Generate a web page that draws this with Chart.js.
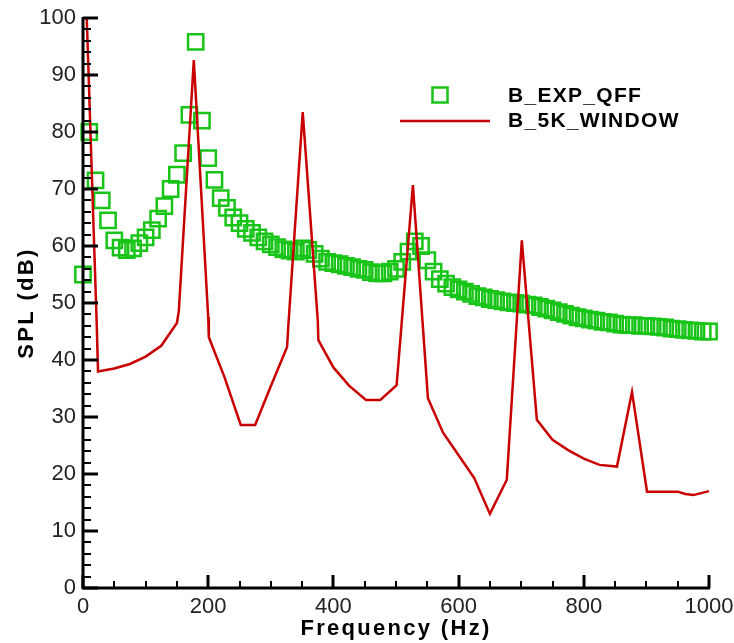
<!DOCTYPE html>
<html>
<head>
<meta charset="utf-8">
<script src="https://cdn.jsdelivr.net/npm/chart.js@4.4.1/dist/chart.umd.min.js"></script>
<style>
  html, body { margin: 0; padding: 0; background: #fff; }
  #wrap { width: 734px; height: 643px; }
</style>
</head>
<body>
<div id="wrap"><canvas id="chart" width="734" height="643"></canvas></div>
<script>
// measured spectrum (squares)
const expFreq = [0, 10, 20, 30, 40, 50, 60, 70, 80, 90,
  100, 110, 120, 130, 140, 150, 160, 170, 180, 190,
  200, 210, 220, 230, 240, 250, 260, 270, 280, 290,
  300, 310, 320, 330, 340, 350, 360, 370, 380, 390,
  400, 410, 420, 430, 440, 450, 460, 470, 480, 490,
  500, 510, 520, 530, 540, 550, 560, 570, 580, 590,
  600, 610, 620, 630, 640, 650, 660, 670, 680, 690,
  700, 710, 720, 730, 740, 750, 760, 770, 780, 790,
  800, 810, 820, 830, 840, 850, 860, 870, 880, 890,
  900, 910, 920, 930, 940, 950, 960, 970, 980, 990, 1000];
const expSPL = [55, 80, 71.5, 68, 64.5, 61, 59.7, 59.3, 59.6, 60.5,
  61.5, 62.8, 64.8, 67, 70, 72.5, 76.3, 83, 95.8, 82,
  75.4, 71.6, 68.4, 66.7, 65, 64, 63, 62.3, 61.5, 60.8,
  60.3, 59.8, 59.4, 59.2, 59, 59.6, 59.3, 58.6, 57.8, 57.2,
  57, 56.8, 56.5, 56.3, 56, 55.8, 55.4, 55.2, 55.2, 55.5,
  56, 57.2, 59, 60.8, 60, 57.5, 55.5, 54.2, 53.4, 52.8,
  52.4, 52, 51.6, 51.2, 51, 50.7, 50.5, 50.3, 50.1, 50,
  49.9, 49.7, 49.6, 49.3, 49, 48.7, 48.4, 48.1, 47.8, 47.5,
  47.3, 47.1, 46.9, 46.7, 46.6, 46.4, 46.2, 46.1, 46.1, 46,
  46, 45.9, 45.8, 45.7, 45.5, 45.4, 45.3, 45.2, 45.1, 45, 45];

// computed spectrum (line)
const simFreq = [6, 22, 24, 50, 75, 100, 125, 150, 153, 177, 200, 201, 226, 252, 275, 300, 326, 328, 351, 375, 376,
  400, 425, 452, 475, 501, 527, 551, 575, 600, 625, 650, 677, 701, 725, 750, 775, 800, 825, 853, 877, 901,
  925, 950, 962, 975, 1000];
const simSPL = [100, 46, 38, 38.5, 39.3, 40.6, 42.5, 46.5, 48.5, 92.6, 47.5, 44, 37, 28.6, 28.6, 35.4, 42.3, 46, 83.5, 47, 43.5,
  38.7, 35.5, 33, 33, 35.6, 70.7, 33.3, 27.3, 23.3, 19.3, 13, 19, 61, 29.5, 26, 24.2, 22.7, 21.6, 21.3, 34.4, 16.9,
  16.9, 16.9, 16.5, 16.3, 17];

const seriesNames = ['B_EXP_QFF', 'B_5K_WINDOW'];
const xTitle = 'Frequency (Hz)';
const yTitle = 'SPL (dB)';
const xRange = [0, 1000], xMajor = 200, xMinor = 50;
const yRange = [0, 100], yMajor = 10, yMinor = 2;

const GREEN = 'rgb(24,196,24)';
const RED = '#c80000';
const FONT = '"Liberation Sans", Arial, sans-serif';

const toPoints = (xs, ys) => xs.map((v, i) => ({ x: v, y: ys[i] }));

// axis lines with inward ticks, drawn over the data like the original
const axesPlugin = {
  id: 'axes',
  afterDatasetsDraw(chart) {
    const { ctx, chartArea: a, scales: { x, y } } = chart;
    ctx.save();
    ctx.strokeStyle = '#000';
    ctx.lineCap = 'butt';
    for (let v = yRange[0]; v <= yRange[1]; v += yMinor) {
      const major = v % yMajor === 0;
      const py = Math.round(y.getPixelForValue(v));
      ctx.lineWidth = major ? 3 : 2;
      ctx.beginPath();
      ctx.moveTo(a.left, py);
      ctx.lineTo(a.left + (major ? 15 : 8), py);
      ctx.stroke();
    }
    for (let v = xRange[0]; v <= xRange[1]; v += xMinor) {
      const major = v % xMajor === 0;
      const px = Math.round(x.getPixelForValue(v));
      ctx.lineWidth = major ? 3 : 2;
      ctx.beginPath();
      ctx.moveTo(px, a.bottom);
      ctx.lineTo(px, a.bottom - (major ? 13 : 7));
      ctx.stroke();
    }
    ctx.lineWidth = 3;
    ctx.beginPath();
    ctx.moveTo(a.left, a.top - 1);
    ctx.lineTo(a.left, a.bottom);
    ctx.lineTo(a.right + 1, a.bottom);
    ctx.stroke();
    ctx.restore();
  }
};

// legend inside the plot + spaced-out axis titles
const textPlugin = {
  id: 'texts',
  afterDraw(chart) {
    const { ctx, chartArea: a } = chart;
    ctx.save();
    ctx.strokeStyle = GREEN;
    ctx.lineWidth = 2.5;
    ctx.strokeRect(440 - 7.5, 95 - 7.5, 15, 15);
    ctx.strokeStyle = RED;
    ctx.lineWidth = 2.5;
    ctx.beginPath();
    ctx.moveTo(400, 121);
    ctx.lineTo(490, 121);
    ctx.stroke();
    ctx.fillStyle = '#000';
    ctx.font = 'bold 21px ' + FONT;
    ctx.letterSpacing = '1.3px';
    ctx.textBaseline = 'alphabetic';
    ctx.fillText(seriesNames[0], 508, 102);
    ctx.fillText(seriesNames[1], 508, 127);

    ctx.font = 'bold 22px ' + FONT;
    ctx.letterSpacing = '2.3px';
    ctx.textAlign = 'center';
    const cx = (a.left + a.right) / 2;
    ctx.fillText(xTitle, cx, 635);
    ctx.translate(33, (a.top + a.bottom) / 2);
    ctx.rotate(-Math.PI / 2);
    ctx.fillText(yTitle, 0, 0);
    ctx.restore();
  }
};

new Chart(document.getElementById('chart'), {
  type: 'scatter',
  data: {
    datasets: [
      {
        label: seriesNames[0],
        data: toPoints(expFreq, expSPL),
        showLine: false,
        pointStyle: 'rect',
        pointRadius: 10.8,
        pointHoverRadius: 10.8,
        pointBorderWidth: 2.5,
        borderColor: GREEN,
        backgroundColor: 'rgba(0,0,0,0)',
        clip: false,
        order: 1
      },
      {
        label: seriesNames[1],
        data: toPoints(simFreq, simSPL),
        showLine: true,
        borderColor: RED,
        borderWidth: 2.5,
        pointRadius: 0,
        tension: 0,
        clip: false,
        order: 0
      }
    ]
  },
  options: {
    responsive: false,
    devicePixelRatio: 1,
    animation: false,
    events: [],
    layout: { padding: { top: 18, right: 25, left: 0, bottom: 0 } },
    plugins: { legend: { display: false }, tooltip: { enabled: false } },
    scales: {
      x: {
        type: 'linear',
        min: xRange[0], max: xRange[1],
        grid: { display: false, drawTicks: false },
        border: { display: false },
        ticks: { stepSize: xMajor, padding: 6, color: '#222', font: { family: FONT, size: 22 }, maxRotation: 0,
          callback: v => String(v) },
        afterFit(scale) { scale.height = 55; scale.paddingLeft = 0; scale.paddingRight = 0; }
      },
      y: {
        type: 'linear',
        min: yRange[0], max: yRange[1],
        grid: { display: false, drawTicks: false },
        border: { display: false },
        ticks: { stepSize: yMajor, padding: 7, color: '#222', font: { family: FONT, size: 22 },
          callback: v => String(v) },
        afterFit(scale) { scale.width = 83; scale.paddingTop = 0; scale.paddingBottom = 0; }
      }
    }
  },
  plugins: [axesPlugin, textPlugin]
});
</script>
</body>
</html>
